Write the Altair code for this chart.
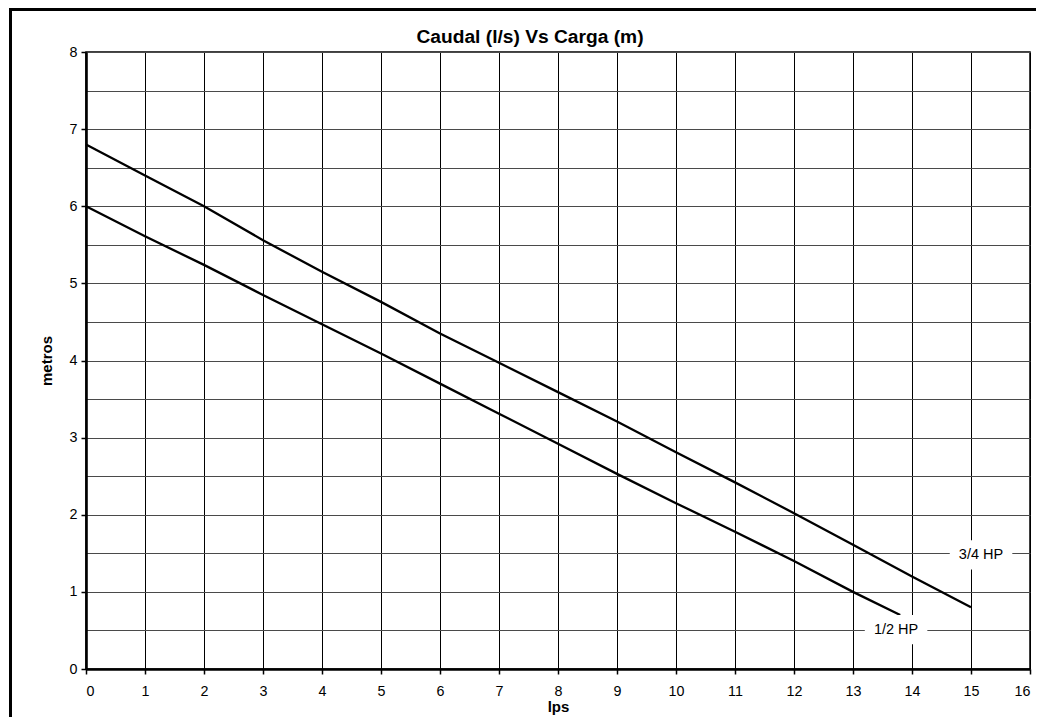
import altair as alt
import pandas as pd

# ---- data ----
x_34 = [0, 1, 2, 3, 4, 5, 6, 7, 8, 9, 10, 11, 12, 13, 14, 15]
y_34 = [6.8, 6.4, 6.0, 5.56, 5.15, 4.76, 4.35, 3.97, 3.59, 3.21, 2.81, 2.42, 2.02, 1.61, 1.2, 0.8]
x_12 = [0, 1, 2, 3, 4, 5, 6, 7, 8, 9, 10, 11, 12, 13, 13.8]
y_12 = [6.0, 5.61, 5.24, 4.85, 4.47, 4.09, 3.7, 3.31, 2.92, 2.53, 2.15, 1.78, 1.4, 1.0, 0.7]

label_text = ["3/4 HP", "1/2 HP"]
label_x = [15.17, 13.73]
label_y = [1.48, 0.51]

title_text = ["Caudal (l/s) Vs Carga (m)"]
x_ticks = list(range(0, 17))
y_grid = [i / 2 for i in range(0, 17)]

FONT = "Liberation Sans"
W, H = 944, 617

lines = pd.DataFrame(
    {"lps": x_34 + x_12, "metros": y_34 + y_12,
     "serie": [label_text[0]] * len(x_34) + [label_text[1]] * len(x_12)}
)
labels = pd.DataFrame({"t": label_text, "lps": label_x, "metros": label_y})
labels["lps_a"] = labels["lps"] - 0.53
labels["lps_b"] = labels["lps"] + 0.53
labels["met_a"] = labels["metros"] - 0.19
labels["met_b"] = labels["metros"] + 0.19
titles = pd.DataFrame({"t": title_text})

xs = alt.Scale(domain=[0, 16], nice=False, zero=False)
ys = alt.Scale(domain=[0, 8], nice=False, zero=False)

x_axis = alt.Axis(values=x_ticks, grid=True, gridColor="#000000", gridWidth=1,
                  domainColor="#000000", domainWidth=2.6, tickColor="#000000",
                  tickSize=5, tickWidth=1.5, labelFont=FONT, labelFontSize=14.3,
                  labelColor="#000000", labelPadding=10, titleFont=FONT,
                  titleFontSize=15, titleFontWeight="bold", titleColor="#000000",
                  titlePadding=1)
y_axis = alt.Axis(values=y_grid, grid=True, gridColor="#4a4a4a", gridWidth=1,
                  domainColor="#000000", domainWidth=2.6, tickColor="#000000",
                  tickOpacity=alt.condition("datum.value % 1 === 0", alt.value(1), alt.value(0)),
                  labelExpr="datum.value % 1 === 0 ? '' + datum.value : ''",
                  tickSize=5, tickWidth=1.5, labelFont=FONT, labelFontSize=14.3,
                  labelColor="#000000", labelPadding=4, titleFont=FONT,
                  titleFontSize=15, titleFontWeight="bold", titleColor="#000000",
                  titlePadding=15)

line_layer = alt.Chart(lines).mark_line(color="black", strokeWidth=2.3).encode(
    x=alt.X("lps:Q", scale=xs, title="lps", axis=x_axis),
    y=alt.Y("metros:Q", scale=ys, title="metros", axis=y_axis),
    detail="serie:N",
)

box_layer = alt.Chart(labels).mark_rect(color="white").encode(
    x=alt.X("lps_a:Q", scale=xs, title="lps", axis=x_axis), x2="lps_b:Q",
    y=alt.Y("met_a:Q", scale=ys, title="metros", axis=y_axis), y2="met_b:Q",
)

text_layer = alt.Chart(labels).mark_text(font=FONT, fontSize=14.5, color="black").encode(
    x=alt.X("lps:Q", scale=xs, title="lps", axis=x_axis),
    y=alt.Y("metros:Q", scale=ys, title="metros", axis=y_axis),
    text="t:N",
)

title_layer = alt.Chart(titles).mark_text(
    font=FONT, fontSize=19.2, fontWeight="bold", color="black", baseline="alphabetic"
).encode(x=alt.value(W / 2 - 28), y=alt.value(-9), text="t:N")

frame_left = alt.Chart(titles).mark_rule(color="black", strokeWidth=3).encode(
    x=alt.value(-75.5), y=alt.value(-44), y2=alt.value(H + 60)
)
frame_top = alt.Chart(titles).mark_rule(color="black", strokeWidth=3).encode(
    x=alt.value(-77), x2=alt.value(W + 20), y=alt.value(-42.5)
)

chart = alt.layer(line_layer, box_layer, text_layer, title_layer, frame_left, frame_top).properties(
    width=W, height=H,
    autosize=alt.AutoSizeParams(type="none"),
    padding={"left": 78, "top": 44, "right": 6, "bottom": 48},
    background="white",
).configure_view(stroke="#000000", strokeWidth=1.5)

chart.save("out.html", embed_options={"renderer": "svg", "actions": False})
